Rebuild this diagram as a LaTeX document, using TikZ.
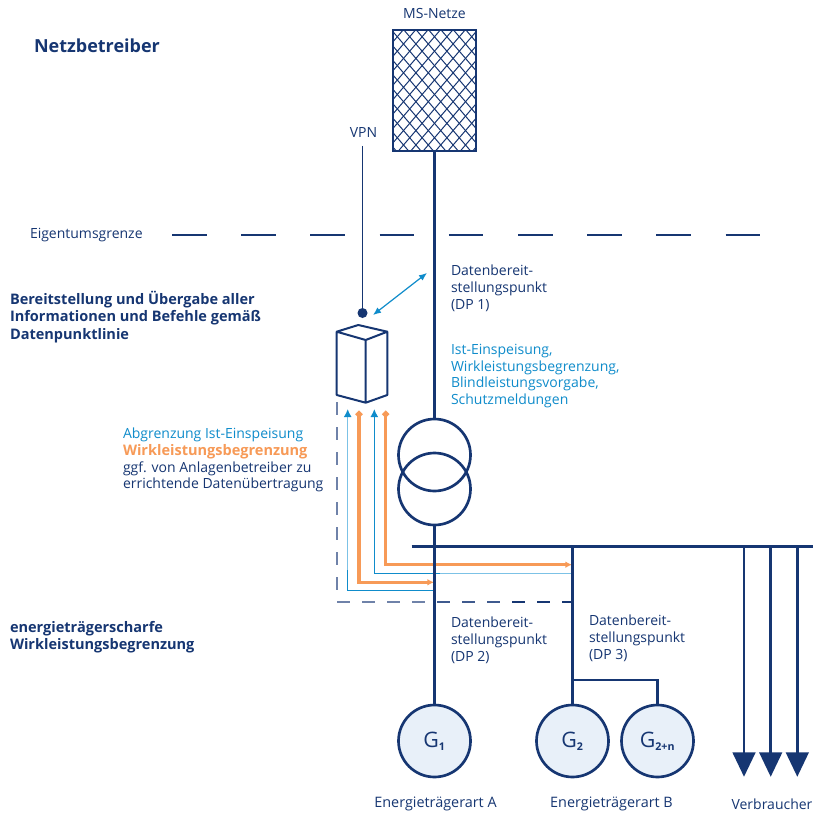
\documentclass[tikz,border=0pt]{standalone}
\usepackage{fontspec}
\setmainfont{Open Sans}
\usetikzlibrary{arrows.meta,calc}
\definecolor{navy}{HTML}{163672}
\definecolor{midnavy}{HTML}{3F5A8E}
\definecolor{sky}{HTML}{0F8CCB}
\definecolor{lightsky}{HTML}{7CC2E6}
\definecolor{amber}{HTML}{F79A57}
\definecolor{pale}{HTML}{E8F0F9}
\definecolor{dashgrey}{HTML}{6F82A9}
\newcommand{\lblfont}{\fontsize{10.5}{12.6}\selectfont}
\newcommand{\boldfont}{\fontsize{10.9}{13.1}\selectfont\bfseries}
\tikzset{
  x=0.75pt,y=-0.75pt,
  lbl/.style={inner sep=0pt,outer sep=0pt,align=left,anchor=west,font=\lblfont,text=navy},
  clbl/.style={inner sep=0pt,outer sep=0pt,align=center,anchor=center,font=\lblfont,text=navy},
  artlbl/.style={clbl,font=\fontsize{10.8}{12.6}\selectfont},
  blbl/.style={inner sep=0pt,outer sep=0pt,align=left,anchor=west,font=\boldfont,text=navy},
  mainline/.style={draw=navy,line width=2.25pt},
  thinline/.style={draw=navy,line width=1.4pt},
  machine/.style={circle,draw=navy,line width=2pt,fill=pale,minimum size=54pt,inner sep=0pt,font=\fontsize{16}{18}\selectfont,text=navy},
  trafo/.style={circle,draw=navy,line width=2pt,minimum size=54pt,inner sep=0pt},
  bluewire/.style={line width=1.1pt},
  orangewire/.style={draw=amber,line width=2.3pt},
  borderdash/.style={draw=navy,line width=2.1pt,dash pattern=on 26pt off 25.9pt},
  transferdash/.style={line width=1pt,dash pattern=on 9.4pt off 9.35pt},
  loadtip/.style={fill=navy,draw=none},
}
\begin{document}
\begin{tikzpicture}
\useasboundingbox (0,0) rectangle (813,813);
\fill[white] (0,0) rectangle (813,813);

% grid
\node[draw=navy,line width=1.5pt,minimum width=62.6pt,minimum height=90.3pt,inner sep=0pt,
  path picture={
    \foreach \i in {-12,...,12}{
      \draw[navy,line width=0.75pt] (\i*12.4-43,-60.5) -- ++(116,135);
      \draw[navy,line width=0.75pt] (\i*12.4+43,-60.5) -- ++(-116,135);
    }
  }] (grid) at (434.5,90.5) {};
\node[clbl] (msnetze) at (434.5,14) {MS-Netze};

% texts
\node[blbl,font=\fontsize{13.5}{15}\selectfont\bfseries] (netz) at (34,46) {Netzbetreiber};
\node[clbl] (vpn) at (363.5,133) {VPN};
\node[lbl] (eigen) at (30,235.5) {Eigentumsgrenze};
\node[lbl] (dp1) at (451,288) {Datenbereit-\\stellungspunkt\\(DP 1)};
\node[lbl,text=sky] (ist) at (451,376) {Ist-Einspeisung,\\Wirkleistungsbegrenzung,\\Blindleistungsvorgabe,\\Schutzmeldungen};
\node[blbl] (bereit) at (10,317) {Bereitstellung und Übergabe aller\\Informationen und Befehle gemäß\\Datenpunktlinie};
\node[lbl] (abgr) at (123,460) {\textcolor{sky}{Abgrenzung Ist-Einspeisung}\\\textcolor{amber}{\fontsize{10.9}{12.6}\selectfont\bfseries Wirkleistungsbegrenzung}\\ggf. von Anlagenbetreiber zu\\errichtende Datenübertragung};
\node[blbl] (energie) at (10,637) {energieträgerscharfe\\Wirkleistungsbegrenzung};
\node[lbl] (dp2) at (451,640) {Datenbereit-\\stellungspunkt\\(DP 2)};
\node[lbl] (dp3) at (589,638) {Datenbereit-\\stellungspunkt\\(DP 3)};
\node[artlbl] (arta) at (435.5,804) {Energieträgerart A};
\node[artlbl] (artb) at (611.5,804) {Energieträgerart B};
\node[clbl] (verb) at (772,804) {Verbraucher};

% boundary
\coordinate (bl) at (172,235); \coordinate (br) at (763,235);
\draw[borderdash] (bl) -- (br);

% cube
\coordinate (ca) at (336.7,331.7); \coordinate (cb) at (358.3,325);
\coordinate (cc) at (387.3,331.7); \coordinate (cd) at (365.7,340);
\coordinate (ce) at (336.7,395); \coordinate (cf) at (365.7,402.7); \coordinate (cg) at (387.3,395);
\draw[navy,line width=1.5pt,line join=round] (ca) -- (cb) -- (cc) -- (cd) -- cycle
  (ca) -- (ce) -- (cf) -- (cg) -- (cc) (cd) -- (cf);

% VPN
\node[circle,fill=navy,minimum size=7.5pt,inner sep=0pt] (dot) at (362.5,313) {};
\coordinate (vpntop) at (362.5,146);
\draw[thinline] (vpntop) -- (dot);
\coordinate (ua) at (373,315); \coordinate (ub) at (427,273);
\draw[sky,line width=0.9pt,{Latex[length=6pt,width=5pt]}-{Latex[length=6pt,width=5pt]}] (ua) -- (ub);

% main
\node[trafo] (t1) at (434.5,455) {};
\node[trafo] (t2) at (434.5,489) {};
\node[machine] (g1) at (434.5,741) {G\textsubscript{\fontsize{8}{8}\selectfont\bfseries 1}};
\node[machine] (g2) at (572.5,741) {G\textsubscript{\fontsize{8}{8}\selectfont\bfseries 2}};
\node[machine] (gn) at (657.5,741) {G\textsubscript{\fontsize{8}{8}\selectfont\bfseries 2+n}};
\draw[mainline] (grid.south) -- (t1.north);
\coordinate (ba) at (411.7,546.7); \coordinate (bb) at (813,546.7);

% wires under the main lines
\coordinate (w1s) at (347.7,409); \coordinate (w1c) at (347.7,590.3); \coordinate (w1e) at (434,590.3);
\coordinate (w2s) at (374.3,409); \coordinate (w2c) at (374.3,573.7); \coordinate (w2e) at (572,573.7);
\coordinate (o1s) at (359,411); \coordinate (o1c) at (359,582.3); \coordinate (o1e) at (434,582.3);
\coordinate (o2s) at (385.7,411); \coordinate (o2c) at (385.7,564.7); \coordinate (o2e) at (572,564.7);
\draw[lightsky,bluewire,{Latex[length=6pt,width=6pt,sky]}-] (w1s) -- (w1c);
\draw[sky,bluewire] (347.7,570) -- (w1c) -- (w1e);
\draw[sky,bluewire,{Latex[length=6pt,width=6pt]}-] (w2s) -- (w2c) -- (w2e);
\draw[lightsky,bluewire] (440,573.7) -- (w2e);
\draw[orangewire,{Circle[length=4.8pt,width=4.8pt]}-{Latex[length=5pt,width=5pt]}] (o1s) -- (o1c) -- (o1e);
\draw[orangewire,{Circle[length=4.8pt,width=4.8pt]}-{Latex[length=5pt,width=5pt]}] (o2s) -- (o2c) -- (o2e);

% dashed
\coordinate (d1) at (337,402); \coordinate (d2) at (337,590); \coordinate (d3) at (572,602);
\coordinate (d4) at (337,602); \coordinate (d5) at (437,602); \coordinate (d6) at (512,602);
\draw[dashgrey,transferdash] (d1) -- (d2);
\draw[dashgrey,transferdash] (d4) -- (d5);
\draw[midnavy,transferdash] (d5) -- (d6);
\draw[navy,transferdash] (d6) -- (d3);

\draw[mainline] (t2.south) -- (g1.north);
\draw[mainline] (ba) -- (bb);
\coordinate (j2) at (572.5,546.7);
\draw[mainline] (j2) -- (g2.north);
\coordinate (j3) at (572.5,680);
\draw[navy,line width=1.9pt] (j3) -| (gn.north);

% loads
\foreach \n/\x in {a/744,b/770.7,c/797.3}{
  \coordinate (l\n) at (\x,546.7);
  \draw[mainline,line width=1.9pt] (l\n) -- (\x,753);
  \fill[loadtip] (\x-11.7,752.3) -- (\x+11.7,752.3) -- (\x,776.7) -- cycle;
}
\end{tikzpicture}
\end{document}
